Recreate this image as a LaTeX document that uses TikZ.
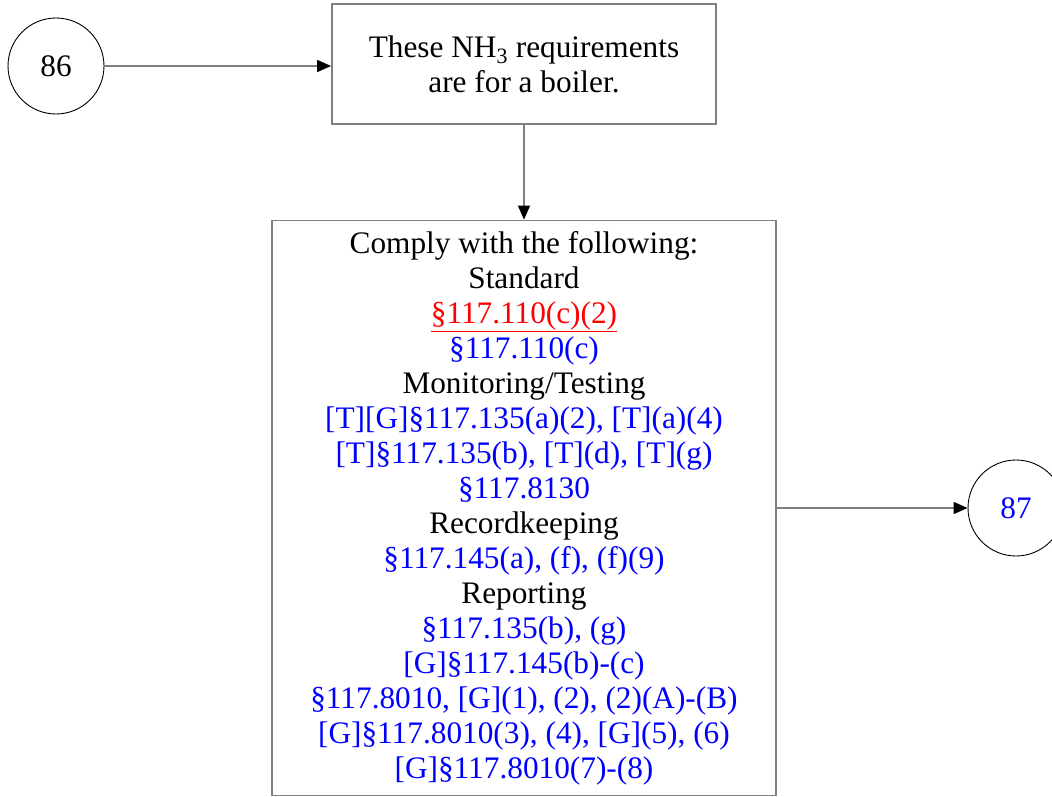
\documentclass[tikz,border=0pt]{standalone}
\usepackage{fontspec}
\setmainfont{Liberation Serif}
\usepackage{xcolor}
\usetikzlibrary{positioning,arrows.meta}

\begin{document}
\begin{tikzpicture}[
    x=1pt, y=-1pt,
    >={Triangle[length=14pt,width=12pt,color=black]},
    font=\fontsize{31.3}{35}\selectfont,
    box/.style={
        draw=gray,
        line width=1.8pt,
        align=center,
        inner sep=0pt
    },
    conn/.style={
        draw=black,
        line width=0.9pt,
        circle,
        minimum size=96pt,
        inner sep=0pt
    },
    arr/.style={->, draw=gray, line width=1.6pt},
    cite/.style={text=blue}
]
\useasboundingbox (0,0) rectangle (1052,797);

% top row
\node[conn] (n86) at (56,66) {86};

\node[box, minimum width=384pt, minimum height=120pt] (boiler) at (524,64)
{These NH\textsubscript{3} requirements\\
are for a boiler.};

% requirement list
\node[box, minimum width=504pt, minimum height=575pt] (comply) at (524,508)
{Comply with the following:\\
Standard\\
\textcolor{red}{\underline{§117.110(c)(2)}}\\
\textcolor{blue}{§117.110(c)}\\
Monitoring/Testing\\
\textcolor{blue}{[T][G]§117.135(a)(2), [T](a)(4)}\\
\textcolor{blue}{[T]§117.135(b), [T](d), [T](g)}\\
\textcolor{blue}{§117.8130}\\
Recordkeeping\\
\textcolor{blue}{§117.145(a), (f), (f)(9)}\\
Reporting\\
\textcolor{blue}{§117.135(b), (g)}\\
\textcolor{blue}{[G]§117.145(b)-(c)}\\
\textcolor{blue}{§117.8010, [G](1), (2), (2)(A)-(B)}\\
\textcolor{blue}{[G]§117.8010(3), (4), [G](5), (6)}\\
\textcolor{blue}{[G]§117.8010(7)-(8)}};

\node[conn, cite] (n87) at (1016,508) {87};

\draw[arr] (n86.east) -- (n86.east -| boiler.west);
\draw[arr] (boiler.south) -- (comply.north);
\draw[arr] (comply.east) -- (n87.west);

\end{tikzpicture}
\end{document}
